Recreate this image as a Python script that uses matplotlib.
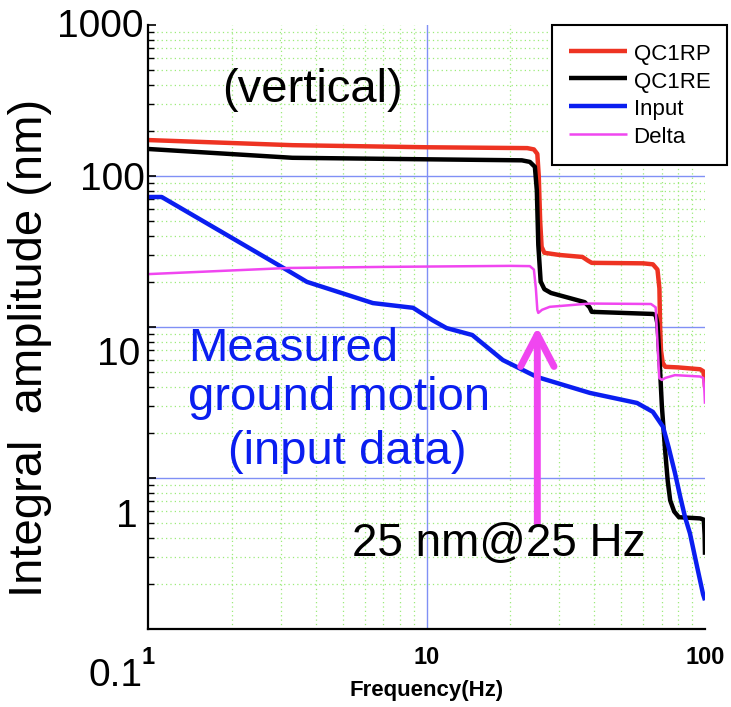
import matplotlib
matplotlib.use("Agg")
import matplotlib.pyplot as plt

plt.rcParams['font.family'] = ['Liberation Sans', 'DejaVu Sans']

W, H = 731, 707

# QC1RP (red)
freq_rp = [1, 3.3, 10, 23, 24.3, 25.0, 25.3, 25.6, 25.9, 26.5, 30, 36.3, 38, 39.2,
           60, 65, 67.5, 68.6, 69, 69.5, 70.5, 72, 80, 96, 98.5, 99.5, 100]
amp_rp = [173, 160, 155, 153, 150, 140, 100, 50, 34, 31, 30, 29.1, 27.5, 26.6,
          26.4, 26.0, 24, 18, 10, 7, 5.8, 5.45, 5.4, 5.25, 5.1, 4.6, 4.0]

# QC1RE (black)
freq_re = [1, 3.3, 10, 22, 23.5, 24.5, 24.9, 25.2, 25.7, 26.5, 28, 37, 38.5, 39.2,
           65, 66.5, 67.5, 68.9, 70, 71.9, 73.5, 75, 77.5, 80.6, 96, 99, 99.7, 100]
amp_re = [151, 132, 129, 127, 124, 115, 80, 35, 20, 17.8, 16.8, 14.6, 13.5, 12.6,
          12.2, 12.0, 10.5, 5.4, 3.0, 1.53, 0.95, 0.71, 0.6, 0.55, 0.54, 0.53, 0.42, 0.31]

# Input (blue)
freq_in = [1, 1.12, 3.16, 3.72, 6.42, 8.95, 10.5, 11.8, 14.6, 18.8, 24.9, 38.6, 57,
           65, 70.7, 74, 78, 81.5, 84.8, 88.3, 93.6, 98.4, 100]
amp_in = [72.6, 72.6, 23.8, 19.9, 14.4, 13.4, 11.1, 9.84, 8.85, 6.04, 4.67, 3.66, 3.14,
          2.74, 2.18, 1.6, 1.08, 0.75, 0.55, 0.43, 0.26, 0.17, 0.155]

# Delta (magenta)
freq_de = [1, 3.2, 7, 20, 23.5, 24.3, 24.7, 25.0, 25.2, 26, 27.7, 38.6, 64, 66.5,
           67.5, 68.5, 70, 72, 78, 96, 98.5, 99.5, 100]
amp_de = [22.4, 24.6, 25.0, 25.4, 25.3, 24, 18, 13, 12.4, 13.0, 13.6, 14.3, 14.2, 13.5,
          8, 4.6, 4.46, 4.6, 4.8, 4.7, 4.6, 3.8, 3.1]

series_names = ['QC1RP', 'QC1RE', 'Input', 'Delta']
series_colors = ['#EE3322', '#000000', '#0A1EF0', '#F046F0']
series_widths = [3.2, 3.2, 3.2, 1.8]

xticks = [1, 10, 100]
xtick_labels = ['1', '10', '100']
yticks = [0.1, 1, 10, 100, 1000]
# big y labels pasted slightly below their gridlines in the original slide
ytick_text = ['1000', '100', '10', '1', '0.1']
ytick_px = [(143, 27), (145, 180), (140, 355), (138, 517), (142, 676)]


def fig_xy(x, y):
    return x / W, 1 - y / H


fig = plt.figure(figsize=(W / 100, H / 100), dpi=100)
ax = fig.add_axes([148 / W, 1 - 629 / H, 557 / W, 604 / H])
ax.set_xscale('log')
ax.set_yscale('log')

data = [(freq_rp, amp_rp), (freq_re, amp_re), (freq_in, amp_in), (freq_de, amp_de)]
for (f, a), name, c, lw in zip(data, series_names, series_colors, series_widths):
    ax.plot(f, a, color=c, lw=lw, label=name, solid_joinstyle='round',
            solid_capstyle='butt')

ax.set_xlim(1, 100)
ax.set_ylim(0.1, 1000)
ax.set_xticks(xticks)
ax.set_xticklabels(xtick_labels, fontsize=17, fontweight='bold')
ax.set_yticks(yticks)
ax.set_yticklabels([])

ax.grid(which='major', color='#8090F5', linewidth=1.0, linestyle='-')
ax.grid(which='minor', color='#9CEB7A', linewidth=0.9, linestyle=(0, (1, 2.5)))
for t in ax.xaxis.get_major_ticks():
    if t.get_loc() in (1, 100):
        t.gridline.set_visible(False)
for t in ax.yaxis.get_major_ticks():
    if t.get_loc() in (0.1, 1000):
        t.gridline.set_visible(False)

ax.tick_params(axis='x', which='both', length=0, pad=12)
ax.tick_params(axis='y', which='major', direction='in', length=6, width=1.2)
ax.tick_params(axis='y', which='minor', direction='in', length=4, width=1.0)
for s in ['top', 'right']:
    ax.spines[s].set_visible(False)
for s in ['left', 'bottom']:
    ax.spines[s].set_linewidth(1.6)

ax.set_xlabel('Frequency(Hz)', fontsize=16, fontweight='bold', labelpad=8)

for txt, (px, py) in zip(ytick_text, ytick_px):
    fig.text(*fig_xy(px, py), txt, fontsize=28, ha='right', va='center')

fig.text(*fig_xy(30, 348), 'Integral  amplitude (nm)', fontsize=34, rotation=90,
         ha='center', va='center')
fig.text(*fig_xy(312, 90), '(vertical)', fontsize=34, ha='center', va='center')

blue_txt = '#0A1EF0'
fig.text(*fig_xy(188, 361), 'Measured', fontsize=34, color=blue_txt, va='baseline')
fig.text(*fig_xy(188, 410), 'ground motion', fontsize=34, color=blue_txt, va='baseline')
fig.text(*fig_xy(228, 464), '(input data)', fontsize=34, color=blue_txt, va='baseline')
fig.text(*fig_xy(352, 556), '25 nm@25 Hz', fontsize=33, va='baseline')

ax.annotate('', xy=(25, 10), xytext=(25, 0.5),
            arrowprops=dict(arrowstyle='->,head_length=2.3,head_width=1.2',
                            color='#F046F0', lw=5, shrinkA=0, shrinkB=0,
                            capstyle='round', joinstyle='round'))

leg = ax.legend(loc='upper right', bbox_to_anchor=fig_xy(727, 25),
                bbox_transform=fig.transFigure, fontsize=16, frameon=True,
                fancybox=False, framealpha=1, edgecolor='black',
                handlelength=2.6, handletextpad=0.3, labelspacing=0.18,
                handleheight=1.15, borderpad=0.75, borderaxespad=0)
leg.get_frame().set_linewidth(1.5)

fig.savefig('out.png', dpi=100)
